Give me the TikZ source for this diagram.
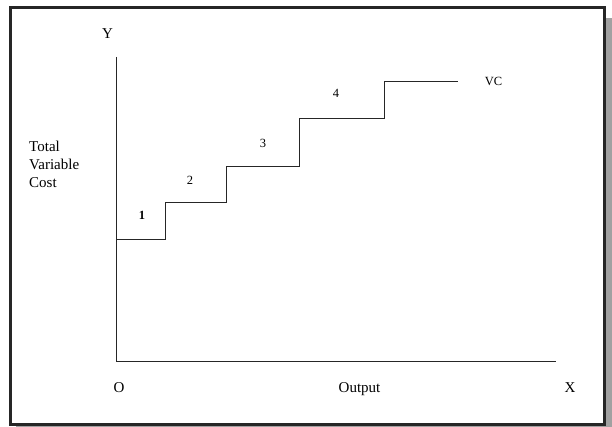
\documentclass[tikz,border=0pt]{standalone}
\usepackage{fontspec}
\setmainfont{Liberation Serif}
\usetikzlibrary{positioning,calc}
\begin{document}
\begin{tikzpicture}[x=1pt, y=-1pt,
    lbl/.style={inner sep=0pt, font=\fontsize{15}{18}\selectfont},
    stp/.style={inner sep=0pt, font=\fontsize{12.5}{14}\selectfont},
    axis/.style={line width=0.9pt, draw=black!85}]
      \useasboundingbox (0,0) rectangle (612,427);
      \fill[black!37] (16,18) rectangle (612,427);
      \draw[line width=2.2pt, draw=black!85, fill=white] (10.5,7.5) rectangle (604.5,424.5);
      \coordinate (o) at (116,361);
      \coordinate (ytop) at (116,57);
      \coordinate (xend) at (556,361);
      \coordinate (s0) at (116,239);
      \coordinate (vcend) at (458,81);
      \draw[axis] (ytop) -- (o) -- (xend);
      \draw[axis] (s0) -| (165,202) -| (226,166) -| (299,118) -| (384,81) -- (vcend);
      \node[lbl, anchor=base] (ylab) at (107.5,38.5) {Y};
      \node[lbl, anchor=west, align=left] (tvc) at (29,164) {Total\\Variable\\Cost};
      \node[lbl, anchor=base] (olab) at (119,392.5) {O};
      \node[lbl, anchor=base] (output) at (359.5,392.5) {Output};
      \node[lbl, anchor=base] (xlab) at (570,392.5) {X};
      \node[stp, anchor=base] (n1) at (142,220) {\textbf{1}};
      \node[stp, anchor=base] (n2) at (190,185) {2};
      \node[stp, anchor=base] (n3) at (263,148) {3};
      \node[stp, anchor=base] (n4) at (336,98) {4};
      \node[stp, anchor=base] (vc) at (493.5,86) {VC};
    \end{tikzpicture}
\end{document}
